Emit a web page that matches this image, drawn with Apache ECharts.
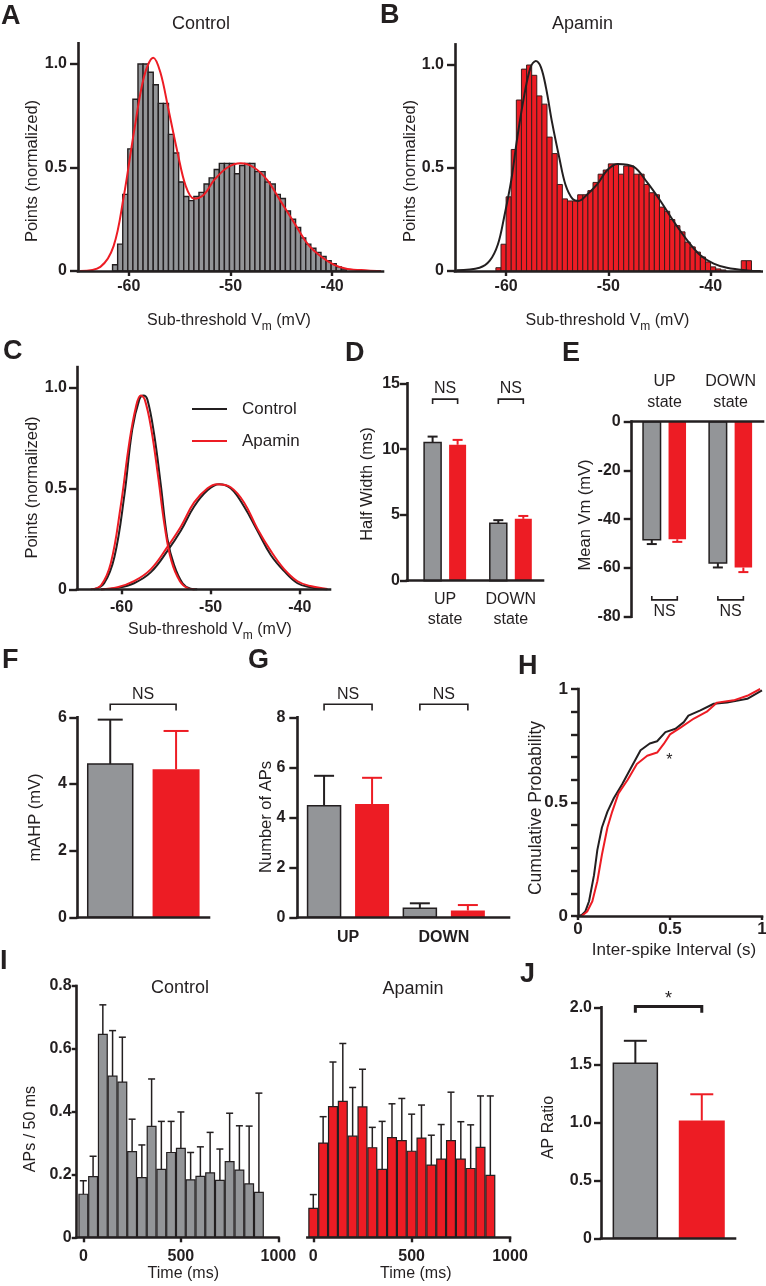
<!DOCTYPE html>
<html><head><meta charset="utf-8">
<script src="https://cdn.jsdelivr.net/npm/echarts@6.0.0/dist/echarts.min.js"></script>
<style>html,body{margin:0;padding:0;background:#fff;}#chart{width:766px;height:1286px;}</style>
</head><body><div id="chart"></div>
<script>
// ================= DATA =================
// Panels A / B : histograms (0.5 mV bins) and fits
const vmTicks = [-60, -50, -40];
const histBinWidth = 0.5;
const controlHistStart = -61.6;
const controlHist = [0.03,0.13,0.37,0.59,0.83,1.0,1.0,0.96,0.90,0.81,0.81,0.66,0.57,0.43,0.36,0.34,0.36,0.38,0.42,0.45,0.49,0.52,0.52,0.52,0.47,0.51,0.52,0.52,0.48,0.48,0.43,0.42,0.37,0.35,0.29,0.25,0.21,0.16,0.13,0.11,0.09,0.07,0.05,0.035,0.02,0.01];
const apaminHistStart = -61.0;
const apaminHist = [0.016,0.13,0.36,0.59,0.83,0.98,1.0,0.95,0.85,0.81,0.65,0.57,0.42,0.35,0.34,0.34,0.37,0.37,0.39,0.43,0.47,0.49,0.52,0.52,0.47,0.51,0.51,0.47,0.47,0.42,0.38,0.37,0.31,0.29,0.25,0.22,0.19,0.14,0.117,0.092,0.068,0.044,0.02,0.01,0.005,0,0,0,0.05,0.05];
const controlFitA = [[-64.8,0],[-62.8,0.02],[-61.5,0.12],[-60.5,0.36],[-59.5,0.67],[-58.5,0.94],[-57.6,1.03],[-56.9,0.96],[-56.1,0.78],[-55.2,0.57],[-54.4,0.41],[-53.6,0.35],[-52.6,0.37],[-51.6,0.44],[-50.3,0.50],[-49.0,0.52],[-47.7,0.50],[-46.4,0.44],[-45.1,0.34],[-43.7,0.23],[-42.4,0.13],[-41.1,0.07],[-39.8,0.03],[-38.5,0.01],[-36.5,0.003],[-35.2,0]];
const apaminFitB = [[-64.85,0.004],[-62.6,0.016],[-61.6,0.05],[-60.8,0.13],[-60.2,0.26],[-59.5,0.44],[-58.9,0.65],[-58.2,0.86],[-57.6,0.99],[-57.1,1.02],[-56.6,0.99],[-56.1,0.89],[-55.5,0.72],[-54.8,0.55],[-54.2,0.42],[-53.5,0.35],[-52.9,0.34],[-52.1,0.37],[-51.1,0.42],[-50.1,0.49],[-49.1,0.52],[-47.5,0.505],[-46.2,0.43],[-44.9,0.34],[-43.6,0.24],[-42.3,0.15],[-41.0,0.076],[-39.7,0.036],[-38.4,0.016],[-36.4,0.003],[-35.1,0]];
// Panel C : fitted Gaussians
const cControlDown = [[-63.1,0],[-61.95,0.03],[-60.8,0.16],[-59.7,0.46],[-58.8,0.79],[-58.0,0.94],[-57.55,0.96],[-57.1,0.94],[-56.35,0.77],[-55.6,0.52],[-54.85,0.25],[-54.1,0.12],[-53.15,0.03],[-52.25,0.003],[-51.5,0]];
const cApaminDown = [[-63.45,0],[-62.3,0.02],[-61.2,0.13],[-60.1,0.41],[-59.15,0.72],[-58.4,0.9],[-57.85,0.96],[-57.4,0.94],[-56.65,0.79],[-55.9,0.56],[-55.15,0.31],[-54.4,0.14],[-53.45,0.04],[-52.55,0.005],[-51.8,0]];
const cControlUp = [[-62.3,0],[-60.45,0.007],[-58.6,0.03],[-56.7,0.085],[-54.85,0.19],[-53.35,0.29],[-51.85,0.41],[-50.35,0.49],[-49.05,0.52],[-47.75,0.50],[-46.25,0.41],[-44.75,0.29],[-43.25,0.17],[-41.75,0.09],[-40.25,0.03],[-38.8,0.01],[-36.9,0]];
const cApaminUp = [[-62.3,0],[-60.45,0.01],[-58.6,0.04],[-56.7,0.10],[-54.85,0.21],[-53.35,0.31],[-51.85,0.43],[-50.35,0.50],[-49.25,0.52],[-47.75,0.505],[-46.25,0.43],[-44.75,0.30],[-43.25,0.19],[-41.75,0.10],[-40.25,0.04],[-38.8,0.016],[-36.9,0.002]];
// Panel D : Half width (ms)
const dCategories = ['UP\nstate', 'DOWN\nstate'];
const dControl = [10.5, 4.37], dControlErr = [0.45, 0.23];
const dApamin = [10.33, 4.7], dApaminErr = [0.37, 0.22];
const dTicks = [0, 5, 10, 15];
// Panel E : Mean Vm (mV)
const eCategories = ['UP\nstate', 'DOWN\nstate'];
const eControl = [-48.4, -58.0], eControlErr = [1.8, 1.8];
const eApamin = [-48.2, -59.8], eApaminErr = [1.1, 1.9];
const eTicks = [0, -20, -40, -60, -80];
// Panel F : mAHP (mV)
const fCategories = ['Control', 'Apamin'];
const fControl = [4.6], fControlErr = [1.33];
const fApamin = [4.44], fApaminErr = [1.15];
const fTicks = [0, 2, 4, 6];
// Panel G : Number of APs
const gCategories = ['UP', 'DOWN'];
const gControl = [4.46, 0.36], gControlErr = [1.2, 0.2];
const gApamin = [4.53, 0.27], gApaminErr = [1.05, 0.22];
const gTicks = [0, 2, 4, 6, 8];
// Panel H : cumulative ISI distributions
const hControl = [[0,0],[0.02,0.005],[0.04,0.02],[0.06,0.065],[0.087,0.18],[0.105,0.29],[0.13,0.39],[0.16,0.46],[0.195,0.52],[0.24,0.58],[0.286,0.65],[0.34,0.73],[0.39,0.76],[0.43,0.77],[0.475,0.81],[0.53,0.825],[0.575,0.854],[0.60,0.883],[0.665,0.906],[0.738,0.935],[0.81,0.94],[0.92,0.957],[1.0,0.994]];
const hApamin = [[0.02,0],[0.05,0.02],[0.078,0.065],[0.105,0.153],[0.13,0.27],[0.16,0.39],[0.186,0.46],[0.22,0.54],[0.27,0.60],[0.32,0.67],[0.376,0.706],[0.43,0.72],[0.466,0.758],[0.50,0.80],[0.557,0.83],[0.63,0.87],[0.70,0.90],[0.756,0.94],[0.846,0.95],[0.92,0.97],[0.99,1.0]];
const hYTicks = [0,0.1,0.2,0.3,0.4,0.5,0.6,0.7,0.8,0.9,1];
const hYLabels = [0, 0.5, 1];
const hXTicks = [0, 0.5, 1];
// Panel I : APs per 50 ms bin
const iBinCenters = [0,50,100,150,200,250,300,350,400,450,500,550,600,650,700,750,800,850,900];
const iBinWidth = 50;
const iControl = [0.137,0.193,0.646,0.513,0.494,0.273,0.19,0.353,0.216,0.27,0.283,0.183,0.194,0.205,0.181,0.241,0.214,0.17,0.143];
const iControlErr = [0.043,0.065,0.094,0.145,0.143,0.103,0.104,0.151,0.153,0.099,0.116,0.087,0.094,0.129,0.1,0.154,0.141,0.184,0.316];
const iApamin = [0.092,0.30,0.416,0.433,0.322,0.415,0.285,0.216,0.317,0.308,0.274,0.316,0.23,0.249,0.308,0.249,0.219,0.286,0.197];
const iApaminErr = [0.044,0.084,0.142,0.184,0.155,0.12,0.065,0.153,0.108,0.134,0.118,0.105,0.095,0.11,0.154,0.119,0.139,0.164,0.253];
const iXTicks = [0, 500, 1000];
const iYTicks = [0, 0.2, 0.4, 0.6, 0.8];
// Panel J : AP ratio
const jCategories = ['Control', 'Apamin'];
const jControl = [1.515], jControlErr = [0.195];
const jApamin = [1.02], jApaminErr = [0.227];
const jTicks = [0, 0.5, 1, 1.5, 2];

// ================= STYLE =================
const FONT = "'Liberation Sans', Arial, Helvetica, sans-serif";
const INK = '#231f20';
const GRAY = '#939598';
const RED = '#ed1c24';
const fmt1 = v => (v === 0 ? '0' : v.toFixed(1));
const plain = v => String(v);

function merge(a, b) {
  const out = Array.isArray(a) ? a.slice() : Object.assign({}, a);
  for (const k in b) {
    if (b[k] && typeof b[k] === 'object' && !Array.isArray(b[k]) && a && a[k] && typeof a[k] === 'object' && !Array.isArray(a[k])) out[k] = merge(a[k], b[k]);
    else out[k] = b[k];
  }
  return out;
}
const axisBase = {
  type: 'value',
  axisLine: { show: true, onZero: false, lineStyle: { color: INK, width: 2.6, cap: 'square' } },
  axisTick: { show: true, inside: false, length: 8, lineStyle: { color: INK, width: 2.4 } },
  axisLabel: { show: true, color: INK, fontFamily: FONT, fontWeight: 'bold', fontSize: 16, margin: 10, formatter: plain },
  splitLine: { show: false },
  z: 10
};
const ax = o => merge(axisBase, o);
function xa(gi, min, max, ticks, labels, o) {
  return ax(merge({ gridIndex: gi, min, max, position: 'bottom',
    axisTick: ticks ? { customValues: ticks, length: 5 } : { show: false },
    axisLabel: labels ? { customValues: labels } : { show: false } }, o || {}));
}
function ya(gi, min, max, ticks, labels, o) {
  return ax(merge({ gridIndex: gi, min, max,
    axisTick: { customValues: ticks },
    axisLabel: { customValues: labels || ticks } }, o || {}));
}

// ================= LAYOUT =================
const grids = [
  { left: 78, top: 43.3, width: 305, height: 227.7 },      // 0 A
  { left: 455, top: 44.4, width: 306.7, height: 226.6 },   // 1 B
  { left: 77, top: 367.1, width: 253, height: 222.2 },     // 2 C
  { left: 407, top: 383.3, width: 136, height: 197.4 },    // 3 D
  { left: 631.7, top: 421.7, width: 131.3, height: 195 },  // 4 E
  { left: 77.3, top: 717.3, width: 131.7, height: 200 },   // 5 F
  { left: 297.3, top: 717.3, width: 211.7, height: 200 },  // 6 G
  { left: 578, top: 689, width: 184, height: 227 },        // 7 H
  { left: 76.7, top: 986, width: 201.7, height: 251.3 },   // 8 I control
  { left: 307.4, top: 986, width: 202.6, height: 251.3 },  // 9 I apamin
  { left: 601, top: 1007.3, width: 134, height: 231 }      // 10 J
].map(g => Object.assign({ containLabel: false, outerBoundsMode: 'none', show: false }, g));

const catLabel = cats => ({ customValues: cats.map((c, i) => i + 1), formatter: v => cats[Math.round(v) - 1] || '' });

const xAxes = [
  xa(0, -65, -35, vmTicks, vmTicks, { axisLabel: { margin: 8 } }),
  xa(1, -65, -35, vmTicks, vmTicks, { axisLabel: { margin: 8 } }),
  xa(2, -65, -36.6, vmTicks, vmTicks, { axisLabel: { margin: 10 } }),
  xa(3, 0.42, 2.49, null, null, { axisLabel: merge(catLabel(dCategories), { show: true, fontWeight: 'normal', lineHeight: 20, margin: 9 }) }),
  xa(4, 0.503, 2.49, null, null, { position: 'top', axisLabel: merge(catLabel(eCategories), { show: true, fontWeight: 'normal', lineHeight: 21, margin: 9 }) }),
  xa(5, 0.5, 2.5, null, null),
  xa(6, 0.47, 2.68, null, null, { axisLabel: merge(catLabel(gCategories), { show: true, margin: 12 }) }),
  xa(7, 0, 1, hXTicks, hXTicks, { axisTick: { length: 4 }, axisLabel: { margin: 5, fontSize: 17 } }),
  xa(8, -34, 1000, iXTicks, iXTicks, { axisLabel: { margin: 11 } }),
  xa(9, -30, 1000, iXTicks, iXTicks, { axisLabel: { margin: 11 } }),
  xa(10, 0.483, 2.5, null, null)
];
const yAxes = [
  ya(0, 0, 1.1, [0, 0.5, 1], null, { axisLabel: { formatter: fmt1, margin: 11 } }),
  ya(1, 0, 1.1, [0, 0.5, 1], null, { axisLabel: { formatter: fmt1, margin: 11 } }),
  ya(2, 0, 1.1, [0, 0.5, 1], null, { axisLabel: { formatter: fmt1, margin: 10 } }),
  ya(3, 0, 15, dTicks, null, { axisTick: { length: 7 }, axisLabel: { margin: 7 } }),
  ya(4, -80, 0, eTicks, null, { axisLabel: { margin: 11 } }),
  ya(5, 0, 6, fTicks, null, { axisLabel: { margin: 10.5 } }),
  ya(6, 0, 8, gTicks, null, { axisLabel: { margin: 12 } }),
  ya(7, 0, 1, hYTicks, hYLabels, { axisTick: { length: 7 }, axisLabel: { margin: 10, fontSize: 17 } }),
  ya(8, 0, 0.8, iYTicks, null, { axisTick: { length: 5 }, axisLabel: { margin: 5, formatter: fmt1 } }),
  ya(9, 0, 0.8, iYTicks, null, { show: false }),
  ya(10, 0, 2, jTicks, null, { axisTick: { length: 7 }, axisLabel: { margin: 9, formatter: fmt1 } })
];

// ================= SERIES BUILDERS =================
function histSeries(gi, start, heights, fill, stroke, lw) {
  return {
    type: 'custom', xAxisIndex: gi, yAxisIndex: gi, silent: true, z: 2, clip: false,
    data: heights.map((h, i) => [start + i * histBinWidth, h]),
    renderItem: (params, api) => {
      const x0 = api.value(0), h = api.value(1);
      if (!(h > 0)) return { type: 'group', children: [] };
      const p0 = api.coord([x0, h]);
      const p1 = api.coord([x0 + histBinWidth, 0]);
      return { type: 'rect', shape: { x: p0[0], y: p0[1], width: p1[0] - p0[0], height: p1[1] - p0[1] },
        style: { fill, stroke, lineWidth: lw } };
    }
  };
}
function curve(gi, data, color, width, smooth) {
  return { type: 'line', xAxisIndex: gi, yAxisIndex: gi, data, symbol: 'none', showSymbol: false,
    smooth: smooth, lineStyle: { color, width }, itemStyle: { color }, silent: true, z: 5, clip: false };
}
// bars with one-sided error bars; xs = positions on the axis, off = pixel offset from it
function barSeries(gi, xs, vals, errs, o) {
  return {
    type: 'custom', xAxisIndex: gi, yAxisIndex: gi, silent: true, z: 3, clip: false,
    data: vals.map((v, i) => [xs[i], v, errs[i]]),
    renderItem: (params, api) => {
      const x = api.value(0), v = api.value(1), e = api.value(2);
      const top = api.coord([x, v]);
      const base = api.coord([x, 0]);
      const tip = api.coord([x, v + (v < 0 ? -e : e)]);
      const w = o.widthData ? Math.abs(api.coord([x + o.widthData / 2, 0])[0] - api.coord([x - o.widthData / 2, 0])[0]) : o.width;
      const cx = top[0] + (o.off || 0);
      const ec = o.errColor, ew = o.errWidth;
      return { type: 'group', children: [
        { type: 'line', shape: { x1: cx, y1: top[1], x2: cx, y2: tip[1] }, style: { stroke: ec, lineWidth: ew } },
        { type: 'line', shape: { x1: cx - o.cap / 2, y1: tip[1], x2: cx + o.cap / 2, y2: tip[1] }, style: { stroke: ec, lineWidth: ew } },
        { type: 'rect', shape: { x: cx - w / 2, y: Math.min(top[1], base[1]), width: w, height: Math.abs(base[1] - top[1]) },
          style: { fill: o.fill, stroke: o.stroke || null, lineWidth: o.strokeWidth || 0 } }
      ] };
    }
  };
}
// significance brackets: items {x1,o1,x2,o2,y,dir,tick,lw,label,dy,size}
function bracketSeries(gi, items) {
  return {
    type: 'custom', xAxisIndex: gi, yAxisIndex: gi, silent: true, z: 6, clip: false,
    data: items.map(b => [b.x1, b.x2, b.y]),
    renderItem: (params, api) => {
      const b = items[params.dataIndex];
      const p1 = api.coord([api.value(0), api.value(2)]);
      const p2 = api.coord([api.value(1), api.value(2)]);
      const xA = p1[0] + b.o1, xB = p2[0] + b.o2, y = p1[1], t = b.tick * b.dir;
      return { type: 'group', children: [
        { type: 'polyline', shape: { points: [[xA, y + t], [xA, y], [xB, y], [xB, y + t]] }, style: { stroke: INK, lineWidth: b.lw, fill: null } },
        { type: 'text', x: (xA + xB) / 2, y: y + b.dy, style: { text: b.label, fill: INK, fontFamily: FONT, fontSize: b.size || 16, align: 'center', verticalAlign: 'middle' } }
      ] };
    }
  };
}
const idx = arr => arr.map((c, i) => i + 1);

const ctrlStyle = (width, cap, off) => ({ width, cap, off, fill: GRAY, stroke: INK, strokeWidth: 1.5, errColor: INK, errWidth: 2 });
const apaStyle = (width, cap, off) => ({ width, cap, off, fill: RED, stroke: null, strokeWidth: 0, errColor: RED, errWidth: 2 });

const series = [
  // A
  histSeries(0, controlHistStart, controlHist, GRAY, INK, 1.4),
  curve(0, controlFitA, RED, 2, 0.35),
  // B
  histSeries(1, apaminHistStart, apaminHist, RED, '#3b1c1c', 1.0),
  curve(1, apaminFitB, INK, 2, 0.35),
  // C
  curve(2, cControlUp, INK, 2, 0.4),
  curve(2, cApaminUp, RED, 2, 0.4),
  curve(2, cControlDown, INK, 2, 0.4),
  curve(2, cApaminDown, RED, 2, 0.4),
  // D
  barSeries(3, idx(dCategories), dControl, dControlErr, ctrlStyle(17, 10, -12.5)),
  barSeries(3, idx(dCategories), dApamin, dApaminErr, apaStyle(17, 10, 12.5)),
  bracketSeries(3, [
    { x1: 1, o1: -12.5, x2: 1, o2: 12.5, y: 13.8, dir: 1, tick: 5, lw: 1.6, label: 'NS', dy: -10 },
    { x1: 2, o1: -12.5, x2: 2, o2: 12.5, y: 13.8, dir: 1, tick: 5, lw: 1.6, label: 'NS', dy: -10 }
  ]),
  // E
  barSeries(4, idx(eCategories), eControl, eControlErr, ctrlStyle(17.5, 10, -12.75)),
  barSeries(4, idx(eCategories), eApamin, eApaminErr, apaStyle(17.5, 10, 12.75)),
  bracketSeries(4, [
    { x1: 1, o1: -12.75, x2: 1, o2: 12.75, y: -73.1, dir: -1, tick: 4, lw: 1.6, label: 'NS', dy: 11.7 },
    { x1: 2, o1: -12.75, x2: 2, o2: 12.75, y: -73.1, dir: -1, tick: 4, lw: 1.6, label: 'NS', dy: 11.7 }
  ]),
  // F
  barSeries(5, [1], fControl, fControlErr, ctrlStyle(45, 25, 0)),
  barSeries(5, [2], fApamin, fApaminErr, apaStyle(47, 25, 0)),
  bracketSeries(5, [{ x1: 1, o1: 0, x2: 2, o2: 0, y: 6.39, dir: 1, tick: 6.3, lw: 1.6, label: 'NS', dy: -9.3 }]),
  // G
  barSeries(6, idx(gCategories), gControl, gControlErr, ctrlStyle(33, 20, -24)),
  barSeries(6, idx(gCategories), gApamin, gApaminErr, apaStyle(34, 20, 24)),
  bracketSeries(6, [
    { x1: 1, o1: -24, x2: 1, o2: 24, y: 8.52, dir: 1, tick: 6.3, lw: 1.6, label: 'NS', dy: -9.3 },
    { x1: 2, o1: -24, x2: 2, o2: 24, y: 8.52, dir: 1, tick: 6.3, lw: 1.6, label: 'NS', dy: -9.3 }
  ]),
  // H
  curve(7, hControl, INK, 2, false),
  curve(7, hApamin, RED, 2, false),
  // I
  barSeries(8, iBinCenters, iControl, iControlErr, { widthData: iBinWidth * 0.9, cap: 7, fill: GRAY, stroke: INK, strokeWidth: 1.2, errColor: INK, errWidth: 1.5 }),
  barSeries(9, iBinCenters, iApamin, iApaminErr, { widthData: iBinWidth * 0.9, cap: 7, fill: RED, stroke: INK, strokeWidth: 1.2, errColor: INK, errWidth: 1.5 }),
  // J
  barSeries(10, [1], jControl, jControlErr, ctrlStyle(44, 23, 0)),
  barSeries(10, [2], jApamin, jApaminErr, apaStyle(46, 23, 0)),
  bracketSeries(10, [{ x1: 1, o1: 0, x2: 2, o2: 0, y: 2.007, dir: 1, tick: 6.3, lw: 3, label: '*', dy: -7, size: 18 }])
];

// ================= TEXT =================
function txt(x, y, text, o) {
  o = o || {};
  const style = { text, fill: o.color || INK, fontFamily: FONT, fontSize: o.size || 16, fontWeight: o.weight || 'normal',
    align: o.align || 'center', verticalAlign: o.va || 'middle' };
  if (o.rich) style.rich = o.rich;
  return { type: 'text', x, y, rotation: o.rot || 0, silent: true, z: 100, style };
}
const vmRich = {
  t: { fontSize: 16, fontFamily: FONT, fill: INK, lineHeight: 24 },
  s: { fontSize: 12, fontFamily: FONT, fill: INK, lineHeight: 12, verticalAlign: 'bottom' }
};
const vmName = '{t|Sub-threshold V}{s|m}{t| (mV)}';
const ROT = Math.PI / 2;
const letter = (x, y, l) => txt(x, y, l, { size: 27, weight: 'bold', align: 'left', va: 'top' });

const graphics = [
  letter(1, 3, 'A'), letter(380, 2, 'B'), letter(3, 338, 'C'), letter(345, 340, 'D'), letter(562, 340, 'E'),
  letter(2, 647, 'F'), letter(248, 647, 'G'), letter(518, 653, 'H'), letter(0, 948, 'I'), letter(520, 961, 'J'),
  txt(201, 24, 'Control', { size: 18 }), txt(582.5, 24, 'Apamin', { size: 18 }),
  txt(180, 988, 'Control', { size: 18 }), txt(413, 989, 'Apamin', { size: 18 }),
  // x names
  txt(229, 321, vmName, { rich: vmRich }), txt(607.5, 321, vmName, { rich: vmRich }), txt(210, 630, vmName, { rich: vmRich }),
  txt(674, 950, 'Inter-spike Interval (s)', { size: 17 }),
  txt(183.3, 1274, 'Time (ms)'), txt(415.8, 1274, 'Time (ms)'),
  // y names
  txt(32.5, 171, 'Points (normalized)', { rot: ROT, size: 16.5 }),
  txt(410.8, 171, 'Points (normalized)', { rot: ROT, size: 16.5 }),
  txt(32.5, 487.5, 'Points (normalized)', { rot: ROT, size: 16.5 }),
  txt(367.5, 484, 'Half Width (ms)', { rot: ROT, size: 16.5 }),
  txt(585, 515, 'Mean Vm (mV)', { rot: ROT, size: 16.5 }),
  txt(35.8, 817.5, 'mAHP (mV)', { rot: ROT, size: 16.5 }),
  txt(266, 817, 'Number of APs', { rot: ROT, size: 16.5 }),
  txt(535.8, 808, 'Cumulative Probability', { rot: ROT, size: 17.5 }),
  txt(30.8, 1129, 'APs / 50 ms', { rot: ROT, size: 16 }),
  txt(549, 1127.5, 'AP Ratio', { rot: ROT, size: 16 }),
  // C legend
  { type: 'line', shape: { x1: 192, y1: 409, x2: 227, y2: 409 }, style: { stroke: INK, lineWidth: 2 }, silent: true },
  { type: 'line', shape: { x1: 192, y1: 441, x2: 227, y2: 441 }, style: { stroke: RED, lineWidth: 2 }, silent: true },
  txt(242, 409, 'Control', { size: 17, align: 'left' }), txt(242, 441, 'Apamin', { size: 17, align: 'left' }),
  // H significance
  txt(669.3, 761, '*', { size: 16 })
];

const chart = echarts.init(document.getElementById('chart'), null, { renderer: 'canvas' });
chart.setOption({
  animation: false,
  backgroundColor: '#ffffff',
  textStyle: { fontFamily: FONT },
  grid: grids,
  xAxis: xAxes,
  yAxis: yAxes,
  series,
  graphic: graphics
});
</script></body></html>
